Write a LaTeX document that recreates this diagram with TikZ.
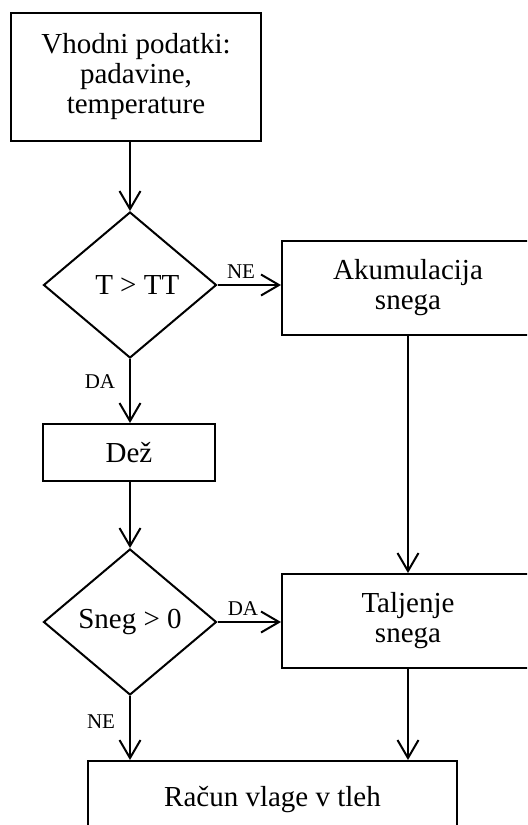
\documentclass[tikz,border=0pt]{standalone}
\usepackage{fontspec}
\setmainfont{Liberation Serif}
\usetikzlibrary{shapes.geometric, arrows.meta, positioning}
\tikzstyle{mybox} = [draw=black, line width=1pt, rectangle, align=center,
    inner sep=0pt, font=\fontsize{14.5}{15}\selectfont]
\tikzstyle{mydiamond} = [draw=black, line width=1pt, diamond, inner sep=0pt,
    minimum width=86.5pt, minimum height=73pt, font=\fontsize{14.5}{15}\selectfont]
\tikzstyle{flowarrow} = [line width=1pt, -{Straight Barb[length=9pt, width=10.5pt]}]
\tikzstyle{answer} = [inner sep=0pt, font=\fontsize{10.5}{12}\selectfont]

\begin{document}
\begin{tikzpicture}[x=0.5pt, y=-0.5pt]
\clip (0,0) rectangle (527,825);
% boxes
\node[mybox, minimum width=125pt, minimum height=64pt] (inputbox) at (136,77)
    {Vhodni podatki:\\padavine,\\temperature\rule[-4pt]{0pt}{1pt}};
\node[mydiamond] (testtemp) at (130,285) {\ \ T > TT};
\node[mybox, minimum width=126pt, minimum height=47pt] (snowacc) at (408,288)
    {Akumulacija\\snega};
\node[mybox, minimum width=86pt, minimum height=28.5pt] (rainbox) at (129,452.5) {Dež};
\node[mydiamond] (testsnow) at (130,622) {Sneg > 0};
\node[mybox, minimum width=126pt, minimum height=47pt] (snowmelt) at (408,621)
    {Taljenje\\snega};
\node[mybox, anchor=north, minimum width=184.5pt, text height=22.5pt, text depth=25pt]
    (soilbox) at (272.5,760) {Račun vlage v tleh};

% connectors
\draw[flowarrow] (inputbox.south -| testtemp.north) -- (testtemp.north);
\draw[flowarrow] (testtemp.east) -- (testtemp.east -| snowacc.west);
\draw[flowarrow] (testtemp.south) -- (rainbox.north -| testtemp.south);
\draw[flowarrow] (rainbox.south -| testsnow.north) -- (testsnow.north);
\draw[flowarrow] (testsnow.east) -- (testsnow.east -| snowmelt.west);
\draw[flowarrow] (snowacc.south) -- (snowmelt.north);
\draw[flowarrow] (snowmelt.south) -- (snowmelt.south |- soilbox.north);
\draw[flowarrow] (testsnow.south) -- (testsnow.south |- soilbox.north);

% labels
\node[answer] (neone) at (241,272) {NE};
\node[answer] (daone) at (100,382) {DA};
\node[answer] (datwo) at (243,609) {DA};
\node[answer] (netwo) at (101,722) {NE};
\end{tikzpicture}
\end{document}
